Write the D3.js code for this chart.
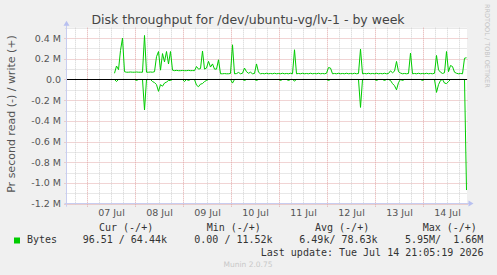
<!DOCTYPE html>
<html>
<head>
<meta charset="utf-8">
<script src="https://cdn.jsdelivr.net/npm/d3@7/dist/d3.min.js"></script>
<style>
  body { margin: 0; background: #f0f0f0; }
  svg { display: block; }
  .mono { font-family: 'DejaVu Sans Mono', monospace; white-space: pre; }
</style>
</head>
<body>
<div id="chart"></div>
<script>
// hourly samples (k bytes / s), first one at 07 Jul 13:30
var firstSample = new Date(2026, 6, 7, 13, 30);

var writeK = [
    60, 130, 95, 280, 400, 75, 70, 70, 72, 70,
    70, 72, 70, 70, 70, 425, 70, 70, 72, 70,
    75, 220, 270, 90, 250, 170, 270, 150, 270, 90,
    85, 88, 85, 85, 87, 85, 85, 88, 85, 86,
    85, 125, 100, 105, 275, 100, 110, 175, 120, 150,
    100, 100, 190, 55, 55, 57, 55, 55, 58, 335,
    55, 57, 68, 55, 60, 110, 75, 60, 70, 55,
    58, 150, 70, 55, 58, 55, 60, 55, 58, 55,
    60, 55, 58, 55, 60, 55, 58, 55, 60, 55,
    287, 55, 58, 55, 60, 55, 58, 55, 60, 55,
    58, 55, 60, 55, 58, 55, 60, 115, 110, 55,
    58, 55, 60, 55, 58, 55, 60, 55, 58, 55,
    60, 55, 58, 293, 55, 58, 55, 60, 55, 58,
    55, 60, 55, 58, 55, 60, 55, 58, 83, 65,
    80, 174, 75, 62, 55, 58, 55, 58, 255, 55,
    58, 55, 60, 55, 58, 55, 60, 55, 58, 55,
    60, 232, 93, 70, 58, 65, 270, 75, 135, 125,
    70, 60, 55, 58, 55, 205, 210
];

var readK = [
    0, 20, 0, 0, 0, 0, 0, 0, 0, 0,
    0, 10, 0, 0, 0, 295, 0, 0, 0, 20,
    30, 50, 115, 50, 65, 35, 25, 10, 10, 0,
    0, 0, 0, 0, 0, 20, 0, 10, 0, 0,
    0, 55, 70, 45, 40, 20, 10, 0, 0, 0,
    0, 0, 0, 0, 0, 0, 0, 0, 0, 35,
    0, 0, 0, 0, 0, 10, 0, 0, 0, 0,
    0, 10, 0, 0, 0, 0, 0, 0, 0, 0,
    0, 0, 0, 10, 0, 0, 0, 10, 0, 0,
    15, 0, 0, 0, 0, 0, 0, 0, 0, 0,
    0, 0, 0, 0, 0, 0, 0, 10, 0, 0,
    0, 0, 0, 0, 0, 0, 0, 0, 0, 0,
    0, 0, 0, 270, 0, 0, 0, 0, 0, 0,
    0, 10, 0, 0, 0, 10, 0, 0, 10, 40,
    60, 100, 30, 0, 10, 0, 0, 0, 0, 0,
    0, 0, 0, 0, 10, 0, 0, 0, 0, 0,
    0, 125, 50, 10, 0, 35, 40, 20, 0, 0,
    0, 0, 0, 0, 0, 0, 1068
];

var dayLabels = ['07 Jul', '08 Jul', '09 Jul', '10 Jul', '11 Jul', '12 Jul', '13 Jul', '14 Jul'];
var yTickValues = [0.4e6, 0.2e6, 0, -0.2e6, -0.4e6, -0.6e6, -0.8e6, -1.0e6, -1.2e6];
var yTickLabels = ['0.4 M', '0.2 M', '0.0', '-0.2 M', '-0.4 M', '-0.6 M', '-0.8 M', '-1.0 M', '-1.2 M'];

var legendHeads = ['Cur (-/+)', 'Min (-/+)', 'Avg (-/+)', 'Max (-/+)'];
var legendValues = ['96.51 / 64.44k', '0.00 / 11.52k', '6.49k/ 78.63k', '5.95M/  1.66M'];

var width = 497;
var height = 275;
var plotLeft = 67.5;
var plotRight = 467.5;
var plotTop = 27.7;
var plotBottom = 203.7;
var green = '#00cc00';

var svg = d3.select('#chart').append('svg')
    .attr('width', width)
    .attr('height', height)
    .style('background', '#f0f0f0');

var xScale = d3.scaleTime()
    .domain([new Date(2026, 6, 6, 14, 0), new Date(2026, 6, 14, 22, 0)])
    .range([plotLeft, plotRight]);

var yScale = d3.scaleLinear()
    .domain([-1.2e6, 0.5e6])
    .range([plotBottom, plotTop]);

function sampleTime(i) {
    return d3.timeHour.offset(firstSample, i);
}

svg.append('rect')
    .attr('x', plotLeft - 0.5)
    .attr('y', plotTop)
    .attr('width', plotRight - plotLeft)
    .attr('height', plotBottom - plotTop)
    .attr('fill', '#ffffff');

// horizontal grid: minor every 0.1 M, major on the labelled values
var hMinor = d3.range(-11, 6, 2).map(d => d * 1e5);
svg.append('g').selectAll('line').data(hMinor).enter()
    .append('line')
    .attr('x1', plotLeft - 2)
    .attr('x2', plotRight)
    .attr('y1', d => Math.round(yScale(d)) + 0.5)
    .attr('y2', d => Math.round(yScale(d)) + 0.5)
    .attr('stroke', '#d0d0d0')
    .attr('stroke-dasharray', '1,1');

svg.append('g').selectAll('line').data(yTickValues).enter()
    .append('line')
    .attr('x1', plotLeft - 3)
    .attr('x2', plotRight)
    .attr('y1', d => Math.round(yScale(d)) + 0.5)
    .attr('y2', d => Math.round(yScale(d)) + 0.5)
    .attr('stroke', '#e2a8a8')
    .attr('stroke-dasharray', '1,1');

// vertical grid: minor every 6 h, major at midnight
var vMinor = d3.timeHour.every(6).range(xScale.domain()[0], xScale.domain()[1])
    .filter(d => d.getHours() !== 0);
var vMajor = d3.timeDay.range(xScale.domain()[0], xScale.domain()[1]);

svg.append('g').selectAll('line').data(vMinor).enter()
    .append('line')
    .attr('x1', d => Math.round(xScale(d) - 0.5) + 0.5)
    .attr('x2', d => Math.round(xScale(d) - 0.5) + 0.5)
    .attr('y1', plotTop)
    .attr('y2', plotBottom + 2)
    .attr('stroke', '#d0d0d0')
    .attr('stroke-dasharray', '1,1');

svg.append('g').selectAll('line').data(vMajor).enter()
    .append('line')
    .attr('x1', d => Math.round(xScale(d) - 0.5) + 0.5)
    .attr('x2', d => Math.round(xScale(d) - 0.5) + 0.5)
    .attr('y1', plotTop)
    .attr('y2', plotBottom + 3)
    .attr('stroke', '#e2a8a8')
    .attr('stroke-dasharray', '1,1');

// axes
svg.append('line')
    .attr('x1', plotLeft - 3).attr('x2', plotRight + 2)
    .attr('y1', plotBottom - 0.2).attr('y2', plotBottom - 0.2)
    .attr('stroke', '#c8cdf0');
svg.append('line')
    .attr('x1', plotLeft - 1).attr('x2', plotLeft - 1)
    .attr('y1', plotBottom + 3).attr('y2', plotTop - 3)
    .attr('stroke', '#c8cdf0');
svg.append('path')
    .attr('d', `M${plotRight + 1},${plotBottom - 3.2}L${plotRight + 6},${plotBottom - 0.2}L${plotRight + 1},${plotBottom + 2.8}Z`)
    .attr('fill', '#b8c0f0');
svg.append('path')
    .attr('d', `M${plotLeft - 4},${plotTop - 2}L${plotLeft - 1},${plotTop - 7}L${plotLeft + 2},${plotTop - 2}Z`)
    .attr('fill', '#b8c0f0');

// tick labels
svg.append('g').selectAll('text').data(yTickValues).enter()
    .append('text')
    .text((d, i) => yTickLabels[i])
    .attr('x', 61)
    .attr('y', d => yScale(d) + 3.5)
    .attr('text-anchor', 'end')
    .attr('font-family', 'DejaVu Sans')
    .attr('font-size', 9.5)
    .attr('fill', '#555');

svg.append('g').selectAll('text').data(dayLabels).enter()
    .append('text')
    .text(d => d)
    .attr('x', (d, i) => xScale(new Date(2026, 6, 7 + i, 12, 0)))
    .attr('y', 216)
    .attr('text-anchor', 'middle')
    .attr('font-family', 'DejaVu Sans')
    .attr('font-size', 9.5)
    .attr('fill', '#555');

// series
var readLine = d3.line()
    .x((d, i) => xScale(sampleTime(i)))
    .y(d => yScale(-d * 1000));
var writeLine = d3.line()
    .x((d, i) => xScale(sampleTime(i)))
    .y(d => yScale(d * 1000));

svg.append('path')
    .attr('d', readLine(readK))
    .attr('fill', 'none')
    .attr('stroke', green)
    .attr('stroke-width', 1);

svg.append('path')
    .attr('d', writeLine(writeK))
    .attr('fill', 'none')
    .attr('stroke', green)
    .attr('stroke-width', 1);

svg.append('line')
    .attr('x1', plotLeft - 0.5).attr('x2', plotRight - 0.5)
    .attr('y1', Math.round(yScale(0)) + 0.5).attr('y2', Math.round(yScale(0)) + 0.5)
    .attr('stroke', '#000');

// titles
svg.append('text')
    .text('Disk throughput for /dev/ubuntu-vg/lv-1 - by week')
    .attr('x', 248)
    .attr('y', 23.5)
    .attr('text-anchor', 'middle')
    .attr('font-family', 'DejaVu Sans')
    .attr('font-size', 12.5)
    .attr('fill', '#444');

svg.append('text')
    .text('Pr second read (-) / write (+)')
    .attr('transform', 'translate(15,114)rotate(-90)')
    .attr('text-anchor', 'middle')
    .attr('font-family', 'DejaVu Sans')
    .attr('font-size', 11)
    .attr('fill', '#555');

svg.append('text')
    .text('RRDTOOL / TOBI OETIKER')
    .attr('transform', 'translate(485,4)rotate(90)')
    .attr('font-family', 'DejaVu Sans')
    .attr('font-size', 6.5)
    .attr('fill', '#c4c4c4');

// legend
var headX = [99, 206.7, 315, 422.7];
var valX = [82.7, 194.3, 299.3, 405];

svg.append('g').selectAll('text').data(legendHeads).enter()
    .append('text')
    .attr('class', 'mono')
    .text(d => d)
    .attr('x', (d, i) => headX[i])
    .attr('y', 230.5)
    .attr('font-size', 10)
    .attr('fill', '#333');

svg.append('rect')
    .attr('x', 14).attr('y', 237.5)
    .attr('width', 6).attr('height', 6)
    .attr('fill', green);

svg.append('text')
    .attr('class', 'mono')
    .text('Bytes')
    .attr('x', 27)
    .attr('y', 243)
    .attr('font-size', 10)
    .attr('fill', '#333');

svg.append('g').selectAll('text').data(legendValues).enter()
    .append('text')
    .attr('class', 'mono')
    .text(d => d)
    .attr('x', (d, i) => valX[i])
    .attr('y', 243)
    .attr('font-size', 10)
    .attr('fill', '#333');

svg.append('text')
    .attr('class', 'mono')
    .text('Last update: Tue Jul 14 21:05:19 2026')
    .attr('x', 483.5)
    .attr('y', 255.5)
    .attr('text-anchor', 'end')
    .attr('font-size', 10)
    .attr('fill', '#333');

svg.append('text')
    .text('Munin 2.0.75')
    .attr('x', 248)
    .attr('y', 266.5)
    .attr('text-anchor', 'middle')
    .attr('font-family', 'DejaVu Sans')
    .attr('font-size', 7.5)
    .attr('fill', '#c8c8c8');
</script>
</body>
</html>
